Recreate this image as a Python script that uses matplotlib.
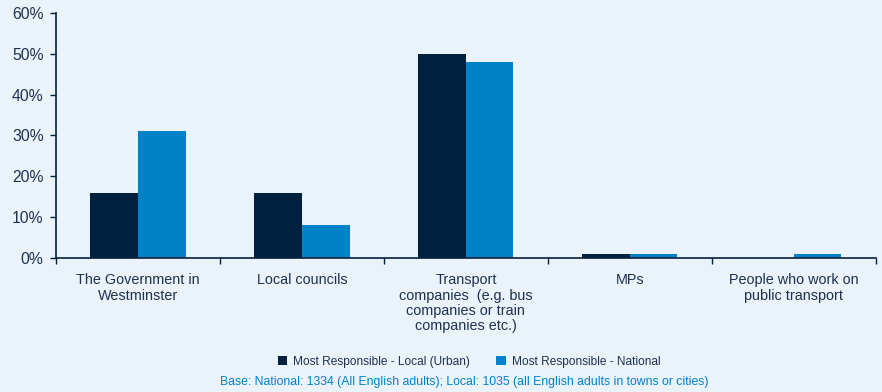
import numpy as np
import matplotlib
matplotlib.use("Agg")
import matplotlib.pyplot as plt
from matplotlib.ticker import FixedLocator, PercentFormatter

plt.rcParams['font.family'] = ['Liberation Sans', 'DejaVu Sans']

# 数据
categories = ["The Government in\nWestminster", "Local councils",
              "Transport\ncompanies  (e.g. bus\ncompanies or train\ncompanies etc.)",
              "MPs", "People who work on\npublic transport"]
local_urban = [16, 16, 50, 1, 0]
national = [31, 8, 48, 1, 1]
series_names = ["Most Responsible - Local (Urban)", "Most Responsible - National"]
base_note = "Base: National: 1334 (All English adults); Local: 1035 (all English adults in towns or cities)"

bg = '#EAF2FA'
navy = '#00203F'
blue = '#0082C8'
text_col = '#1F3150'

fig = plt.figure(figsize=(8.82, 3.92), dpi=100, facecolor=bg)
ax = fig.add_axes([0.0635, 0.342, 0.9295, 0.625], facecolor=bg)

x = np.arange(len(categories))
w = 0.29
ax.bar(x - w / 2, local_urban, width=w, color=navy, label=series_names[0])
ax.bar(x + w / 2, national, width=w, color=blue, label=series_names[1])

ax.set_xlim(-0.5, len(categories) - 0.5)
ax.set_ylim(0, 60)
ax.set_yticks(np.arange(0, 61, 10))
ax.yaxis.set_major_formatter(PercentFormatter(decimals=0))

ax.set_xticks(x)
ax.set_xticklabels(categories, fontsize=10.4, color=text_col, linespacing=1.12, va='top')
ax.tick_params(axis='x', which='major', length=0, pad=11)
ax.xaxis.set_minor_locator(FixedLocator(np.arange(-0.5, len(categories), 1.0)))
ax.tick_params(axis='x', which='minor', length=4, color=navy, width=1)
ax.tick_params(axis='y', length=4, color=navy, width=1, labelsize=11.3, labelcolor=text_col, pad=5)

for side in ['top', 'right']:
    ax.spines[side].set_visible(False)
for side in ['left', 'bottom']:
    ax.spines[side].set_color(navy)
    ax.spines[side].set_linewidth(1.2)

leg = fig.legend(loc='center', bbox_to_anchor=(0.532, 0.077), ncol=2, frameon=False,
                 fontsize=8.6, handlelength=0.8, handleheight=0.8, handletextpad=0.5,
                 columnspacing=2.2)
for t in leg.get_texts():
    t.set_color(text_col)

fig.text(0.526, 0.025, base_note, ha='center', va='center', fontsize=8.8, color=blue)

fig.savefig("out.png", dpi=100, facecolor=bg)
